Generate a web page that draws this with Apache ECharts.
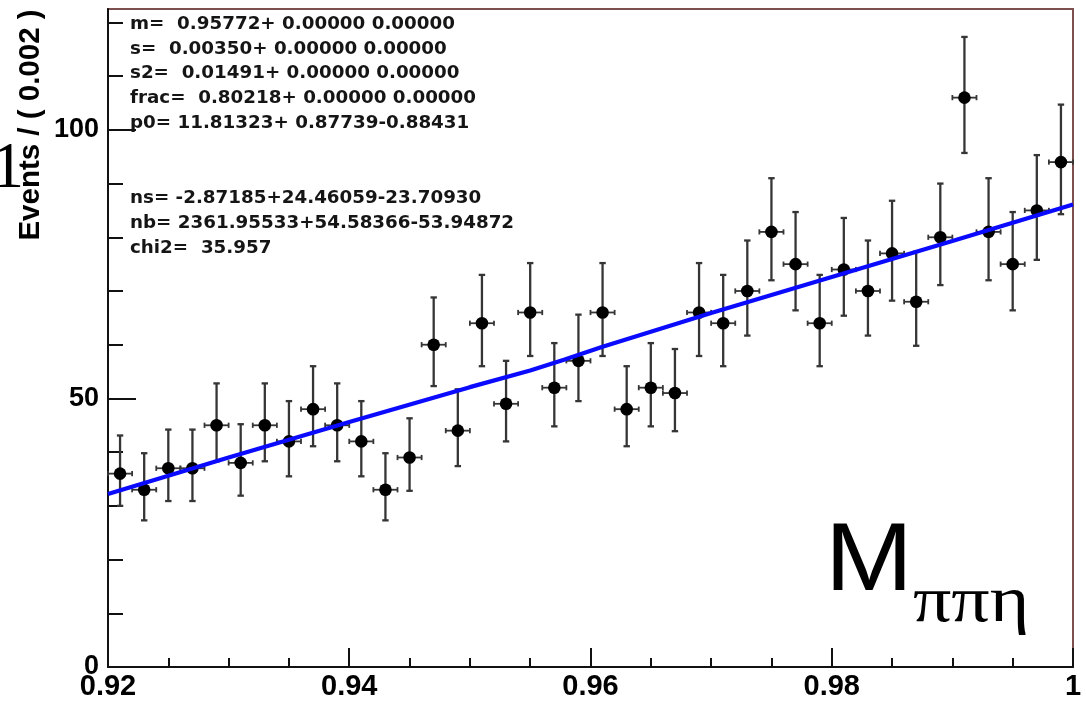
<!DOCTYPE html>
<html>
<head>
<meta charset="utf-8">
<script src="https://cdn.jsdelivr.net/npm/echarts@6/dist/echarts.min.js"></script>
<style>
  html, body { margin: 0; padding: 0; background: #ffffff; }
  #chart { width: 1086px; height: 701px; }
</style>
</head>
<body>
<div id="chart"></div>
<script>
// Bin centres of M(pi pi eta), bin width 0.002
const binCenters = [
  0.921, 0.923, 0.925, 0.927, 0.929, 0.931, 0.933, 0.935, 0.937, 0.939,
  0.941, 0.943, 0.945, 0.947, 0.949, 0.951, 0.953, 0.955, 0.957, 0.959,
  0.961, 0.963, 0.965, 0.967, 0.969, 0.971, 0.973, 0.975, 0.977, 0.979,
  0.981, 0.983, 0.985, 0.987, 0.989, 0.991, 0.993, 0.995, 0.997, 0.999
];
// Events per bin
const events = [
  36, 33, 37, 37, 45, 38, 45, 42, 48, 45,
  42, 33, 39, 60, 44, 64, 49, 66, 52, 57,
  66, 48, 52, 51, 66, 64, 70, 81, 75, 64,
  74, 70, 77, 68, 80, 106, 81, 75, 85, 94
];
// Asymmetric Poisson errors (upper / lower)
const errHigh = [
  7.1, 6.8, 7.2, 7.2, 7.8, 7.2, 7.8, 7.5, 8.0, 7.8,
  7.5, 6.8, 7.3, 8.8, 7.7, 9.0, 8.0, 9.2, 8.3, 8.6,
  9.2, 8.0, 8.3, 8.2, 9.2, 9.0, 9.4, 10.0, 9.7, 9.0,
  9.6, 9.4, 9.8, 9.3, 10.0, 11.3, 10.0, 9.7, 10.3, 10.7
];
const errLow = [
  6.0, 5.7, 6.1, 6.1, 6.7, 6.1, 6.7, 6.5, 6.9, 6.7,
  6.5, 5.7, 6.2, 7.7, 6.6, 8.0, 7.0, 8.1, 7.2, 7.5,
  8.1, 6.9, 7.2, 7.1, 8.1, 8.0, 8.3, 9.0, 8.6, 8.0,
  8.6, 8.3, 8.8, 8.2, 8.9, 10.3, 9.0, 8.6, 9.2, 9.7
];
const binHalfWidth = 0.001;

// Fitted curve (signal + background), sampled along x
const fitX = [0.920, 0.930, 0.940, 0.950, 0.955, 0.9578, 0.961, 0.970, 0.980, 0.990, 1.000];
const fitY = [32.2, 39.0, 45.6, 52.1, 55.2, 57.2, 59.6, 65.9, 72.6, 79.3, 86.1];

// Axis ticks and labels
const xMajorTicks = [0.92, 0.94, 0.96, 0.98, 1.0];
const xTickLabels = ['0.92', '0.94', '0.96', '0.98', '1'];
const xMinorTicks = [0.925, 0.93, 0.935, 0.945, 0.95, 0.955, 0.965, 0.97, 0.975, 0.985, 0.99, 0.995];
const yMajorTicks = [0, 50, 100];
const yTickLabels = ['0', '50', '100'];
const yMinorTicks = [10, 20, 30, 40, 60, 70, 80, 90, 110, 120];

// Fit result box
const fitResultLines = [
  'm=  0.95772+ 0.00000 0.00000',
  's=  0.00350+ 0.00000 0.00000',
  's2=  0.01491+ 0.00000 0.00000',
  'frac=  0.80218+ 0.00000 0.00000',
  'p0= 11.81323+ 0.87739-0.88431',
  '',
  '',
  'ns= -2.87185+24.46059-23.70930',
  'nb= 2361.95533+54.58366-53.94872',
  'chi2=  35.957'
];
const yTitle = 'Events / ( 0.002 )';

const chart = echarts.init(document.getElementById('chart'), null, { renderer: 'canvas' });

const labelFont = 'Liberation Sans, Arial, Helvetica, sans-serif';
const axisColor = '#111111';

function lookup(values, labels, v) {
  for (let i = 0; i < values.length; i++) {
    if (Math.abs(values[i] - v) < 1e-6) return labels[i];
  }
  return '';
}

const pointData = binCenters.map((x, i) => [x, events[i], errLow[i], errHigh[i]]);
const fitData = fitX.map((x, i) => [x, fitY[i]]);

// Data point with vertical (Poisson) and horizontal (bin width) error bars
function renderPoint(params, api) {
  const x = api.value(0), y = api.value(1);
  const lo = api.value(2), hi = api.value(3);
  const c = api.coord([x, y]);
  const top = api.coord([x, y + hi]);
  const bot = api.coord([x, y - lo]);
  const left = api.coord([x - binHalfWidth, y]);
  const right = api.coord([x + binHalfWidth, y]);
  const vs = { stroke: '#353535', lineWidth: 2.3 };
  const hs = { stroke: '#353535', lineWidth: 1.8 };
  const cap = 3.2, hcap = 2.6;
  return {
    type: 'group',
    children: [
      { type: 'line', shape: { x1: c[0], y1: top[1], x2: c[0], y2: bot[1] }, style: vs },
      { type: 'line', shape: { x1: c[0] - cap, y1: top[1], x2: c[0] + cap, y2: top[1] }, style: vs },
      { type: 'line', shape: { x1: c[0] - cap, y1: bot[1], x2: c[0] + cap, y2: bot[1] }, style: vs },
      { type: 'line', shape: { x1: left[0], y1: c[1], x2: right[0], y2: c[1] }, style: hs },
      { type: 'line', shape: { x1: left[0], y1: c[1] - hcap, x2: left[0], y2: c[1] + hcap }, style: hs },
      { type: 'line', shape: { x1: right[0], y1: c[1] - hcap, x2: right[0], y2: c[1] + hcap }, style: hs },
      { type: 'circle', shape: { cx: c[0], cy: c[1], r: 6.3 }, style: { fill: '#000000' } }
    ]
  };
}

const option = {
  animation: false,
  backgroundColor: '#ffffff',
  grid: {
    left: 108, right: 13, top: 9, bottom: 33,
    show: true, borderColor: '#7d5050', borderWidth: 2, backgroundColor: 'transparent'
  },
  xAxis: [
    {
      type: 'value', min: 0.92, max: 1.0, position: 'bottom',
      axisLine: { show: true, onZero: false, lineStyle: { color: axisColor, width: 2 } },
      axisTick: { show: true, inside: true, length: 19, customValues: xMajorTicks, lineStyle: { color: axisColor, width: 2 } },
      axisLabel: {
        customValues: xMajorTicks, margin: 5,
        formatter: (v) => lookup(xMajorTicks, xTickLabels, v),
        fontFamily: labelFont, fontWeight: 'bold', fontSize: 29, color: '#000000'
      },
      splitLine: { show: false }
    },
    {
      type: 'value', min: 0.92, max: 1.0, position: 'bottom', offset: 0,
      axisLine: { show: false },
      axisTick: { show: true, inside: true, length: 9, customValues: xMinorTicks, lineStyle: { color: axisColor, width: 2 } },
      axisLabel: { show: false },
      splitLine: { show: false }
    }
  ],
  yAxis: [
    {
      type: 'value', min: 0, max: 122.5, position: 'left',
      axisLine: { show: true, onZero: false, lineStyle: { color: axisColor, width: 2 } },
      axisTick: { show: true, inside: true, length: 28, customValues: yMajorTicks, lineStyle: { color: axisColor, width: 2 } },
      axisLabel: {
        customValues: yMajorTicks, margin: 9,
        formatter: (v) => lookup(yMajorTicks, yTickLabels, v),
        fontFamily: labelFont, fontWeight: 'bold', fontSize: 27, color: '#000000'
      },
      splitLine: { show: false }
    },
    {
      type: 'value', min: 0, max: 122.5, position: 'left', offset: 0,
      axisLine: { show: false },
      axisTick: { show: true, inside: true, length: 15, customValues: yMinorTicks, lineStyle: { color: axisColor, width: 2 } },
      axisLabel: { show: false },
      splitLine: { show: false }
    }
  ],
  series: [
    {
      type: 'custom',
      xAxisIndex: 0, yAxisIndex: 0,
      data: pointData,
      encode: { x: 0, y: 1 },
      renderItem: renderPoint,
      clip: false,
      z: 2
    },
    {
      type: 'line',
      xAxisIndex: 0, yAxisIndex: 0,
      data: fitData,
      showSymbol: false,
      symbol: 'none',
      smooth: false,
      lineStyle: { color: '#0a0aff', width: 4.2 },
      z: 3
    }
  ],
  graphic: [
    {
      type: 'text', x: 130, y: 11.5, z: 10,
      style: {
        text: fitResultLines.join('\n'),
        font: 'bold 18.3px "DejaVu Sans", Verdana, sans-serif',
        fill: '#151515', lineHeight: 24.9, verticalAlign: 'top', textAlign: 'left'
      }
    },
    {
      type: 'text', x: 31, y: 125, rotation: Math.PI / 2, z: 10,
      style: {
        text: yTitle,
        font: 'bold 29.5px "Liberation Sans", Arial, sans-serif',
        fill: '#000000', textAlign: 'center', verticalAlign: 'middle'
      }
    },
    {
      type: 'text', x: -8.6, y: 170, z: 10,
      style: {
        text: '1',
        font: '65px "Liberation Serif", "Times New Roman", serif',
        fill: '#000000', textAlign: 'left', verticalAlign: 'middle'
      }
    },
    {
      type: 'text', x: 825, y: 564, scaleX: 1.1, z: 10,
      style: {
        text: 'M',
        font: '96px "Liberation Sans", Arial, sans-serif',
        fill: '#000000', textAlign: 'left', verticalAlign: 'middle'
      }
    },
    {
      type: 'text', x: 913, y: 604, scaleX: 1.15, z: 10,
      style: {
        text: 'ππη',
        font: '66px "Liberation Serif", "Times New Roman", serif',
        fill: '#000000', textAlign: 'left', verticalAlign: 'middle'
      }
    }
  ]
};

chart.setOption(option);
</script>
</body>
</html>
